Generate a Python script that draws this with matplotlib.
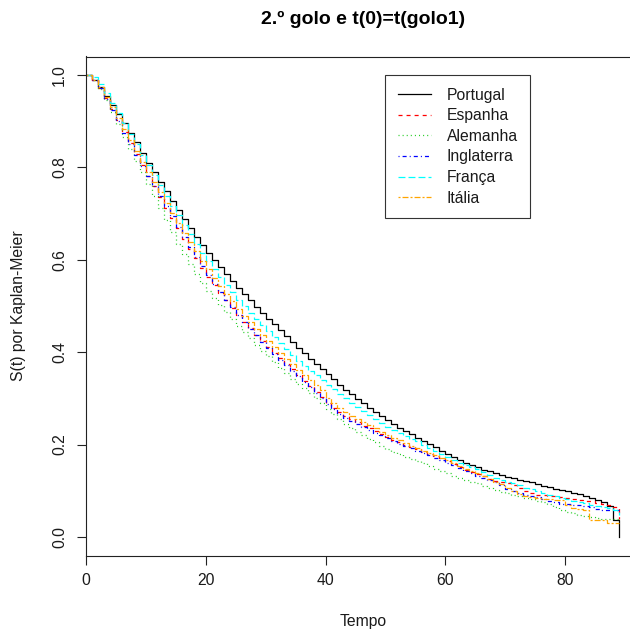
import matplotlib
matplotlib.use("Agg")
import matplotlib.pyplot as plt
import numpy as np

plt.rcParams['font.family'] = ['Liberation Sans', 'DejaVu Sans']
plt.rcParams['lines.scale_dashes'] = False

# Kaplan-Meier survival estimate per minute (value holds from minute t to t+1)
minutes = list(range(0, 90))

portugal = [1.000, 0.990, 0.975, 0.955, 0.935, 0.915, 0.895, 0.875, 0.855, 0.832,
            0.810, 0.789, 0.768, 0.748, 0.728, 0.708, 0.688, 0.668, 0.649, 0.631,
            0.615, 0.600, 0.585, 0.570, 0.555, 0.540, 0.526, 0.512, 0.498, 0.485,
            0.472, 0.460, 0.447, 0.434, 0.422, 0.410, 0.398, 0.386, 0.374, 0.363,
            0.352, 0.341, 0.330, 0.319, 0.309, 0.299, 0.289, 0.280, 0.271, 0.262,
            0.253, 0.245, 0.237, 0.229, 0.222, 0.215, 0.208, 0.201, 0.194, 0.187,
            0.180, 0.173, 0.167, 0.161, 0.156, 0.151, 0.146, 0.142, 0.138, 0.134,
            0.130, 0.127, 0.124, 0.121, 0.118, 0.114, 0.111, 0.108, 0.105, 0.102,
            0.099, 0.096, 0.093, 0.089, 0.085, 0.080, 0.075, 0.067, 0.037, 0.000]

espanha = [1.000, 0.990, 0.972, 0.950, 0.926, 0.902, 0.877, 0.852, 0.828, 0.805,
           0.782, 0.759, 0.736, 0.713, 0.690, 0.668, 0.646, 0.624, 0.603, 0.583,
           0.563, 0.545, 0.528, 0.512, 0.496, 0.481, 0.466, 0.452, 0.438, 0.425,
           0.412, 0.399, 0.387, 0.375, 0.363, 0.350, 0.338, 0.326, 0.314, 0.302,
           0.291, 0.280, 0.270, 0.261, 0.255, 0.248, 0.241, 0.235, 0.229, 0.223,
           0.217, 0.211, 0.205, 0.200, 0.195, 0.190, 0.185, 0.180, 0.175, 0.170,
           0.164, 0.158, 0.152, 0.146, 0.141, 0.136, 0.131, 0.126, 0.122, 0.119,
           0.116, 0.113, 0.106, 0.100, 0.095, 0.092, 0.090, 0.089, 0.088, 0.087,
           0.085, 0.083, 0.081, 0.079, 0.077, 0.074, 0.071, 0.069, 0.066, 0.040]

alemanha = [1.000, 0.990, 0.970, 0.945, 0.920, 0.893, 0.866, 0.840, 0.814, 0.789,
            0.765, 0.738, 0.712, 0.686, 0.660, 0.635, 0.612, 0.590, 0.569, 0.549,
            0.533, 0.517, 0.502, 0.487, 0.472, 0.457, 0.443, 0.430, 0.416, 0.403,
            0.391, 0.379, 0.366, 0.355, 0.343, 0.332, 0.322, 0.311, 0.300, 0.289,
            0.278, 0.266, 0.255, 0.245, 0.236, 0.228, 0.220, 0.212, 0.205, 0.198,
            0.191, 0.185, 0.179, 0.174, 0.169, 0.164, 0.160, 0.154, 0.148, 0.143,
            0.138, 0.133, 0.128, 0.124, 0.120, 0.116, 0.111, 0.106, 0.102, 0.098,
            0.095, 0.091, 0.088, 0.085, 0.082, 0.078, 0.075, 0.072, 0.066, 0.058,
            0.055, 0.051, 0.048, 0.046, 0.043, 0.041, 0.040, 0.040, 0.040, 0.040]

inglaterra = [1.000, 0.990, 0.972, 0.948, 0.924, 0.900, 0.875, 0.851, 0.827, 0.804,
              0.782, 0.760, 0.738, 0.716, 0.694, 0.672, 0.650, 0.628, 0.607, 0.587,
              0.567, 0.548, 0.530, 0.513, 0.497, 0.481, 0.466, 0.451, 0.437, 0.423,
              0.410, 0.397, 0.384, 0.372, 0.360, 0.348, 0.336, 0.324, 0.312, 0.300,
              0.288, 0.277, 0.267, 0.258, 0.252, 0.245, 0.238, 0.232, 0.226, 0.220,
              0.214, 0.208, 0.202, 0.197, 0.192, 0.187, 0.182, 0.177, 0.172, 0.167,
              0.161, 0.155, 0.149, 0.143, 0.138, 0.133, 0.128, 0.123, 0.118, 0.112,
              0.104, 0.099, 0.095, 0.092, 0.089, 0.086, 0.082, 0.078, 0.075, 0.072,
              0.071, 0.070, 0.069, 0.068, 0.064, 0.060, 0.058, 0.058, 0.058, 0.058]

franca = [1.000, 0.995, 0.980, 0.960, 0.940, 0.918, 0.895, 0.872, 0.850, 0.827,
          0.805, 0.783, 0.761, 0.739, 0.717, 0.696, 0.675, 0.655, 0.635, 0.615,
          0.597, 0.580, 0.562, 0.546, 0.530, 0.514, 0.499, 0.485, 0.472, 0.458,
          0.445, 0.432, 0.419, 0.406, 0.394, 0.382, 0.370, 0.360, 0.350, 0.340,
          0.330, 0.320, 0.310, 0.300, 0.290, 0.281, 0.272, 0.264, 0.256, 0.247,
          0.238, 0.231, 0.225, 0.219, 0.213, 0.207, 0.200, 0.193, 0.187, 0.180,
          0.173, 0.167, 0.161, 0.156, 0.152, 0.147, 0.141, 0.134, 0.128, 0.124,
          0.120, 0.116, 0.112, 0.107, 0.103, 0.099, 0.095, 0.091, 0.088, 0.085,
          0.082, 0.079, 0.076, 0.073, 0.070, 0.068, 0.065, 0.062, 0.058, 0.048]

italia = [1.000, 0.990, 0.974, 0.953, 0.930, 0.907, 0.883, 0.859, 0.835, 0.812,
          0.790, 0.768, 0.746, 0.724, 0.702, 0.680, 0.659, 0.638, 0.618, 0.598,
          0.579, 0.561, 0.543, 0.526, 0.510, 0.494, 0.479, 0.465, 0.451, 0.437,
          0.424, 0.411, 0.398, 0.386, 0.374, 0.362, 0.351, 0.340, 0.329, 0.318,
          0.300, 0.289, 0.279, 0.270, 0.262, 0.255, 0.248, 0.242, 0.235, 0.228,
          0.221, 0.215, 0.209, 0.203, 0.197, 0.192, 0.187, 0.182, 0.177, 0.172,
          0.167, 0.160, 0.154, 0.148, 0.143, 0.138, 0.132, 0.126, 0.120, 0.114,
          0.106, 0.100, 0.094, 0.088, 0.086, 0.084, 0.083, 0.082, 0.081, 0.080,
          0.070, 0.062, 0.060, 0.058, 0.037, 0.037, 0.037, 0.030, 0.030, 0.030]

paises = ["Portugal", "Espanha", "Alemanha", "Inglaterra", "França", "Itália"]
series = [portugal, espanha, alemanha, inglaterra, franca, italia]
cores = ["black", "#FF0000", "#22CC22", "#0000FF", "#00FFFF", "#FFA500"]
tracos = ["-",
          (0, (2.9, 2.9)),
          (0, (0.75, 2.2)),
          (0, (0.75, 2.2, 2.9, 2.2)),
          (0, (5.0, 2.2)),
          (0, (1.45, 1.45, 4.3, 1.45))]

W, H = 630, 635
fig = plt.figure(figsize=(W / 100, H / 100), dpi=100)

# plot region in pixels: x 0 -> 86 px, 5.9875 px per minute; y 1.04 -> 56.5, -0.04 -> 555.5
x_min, x_max = 0.0, 92.56
px_per_min = 5.9875
left_px = 86
right_px = left_px + (x_max - x_min) * px_per_min
top_px, bottom_px = 56.5, 555.5
ax = fig.add_axes([left_px / W, 1 - bottom_px / H,
                   (right_px - left_px) / W, (bottom_px - top_px) / H])
ax.set_xlim(x_min, x_max)
ax.set_ylim(-0.04, 1.04)

for nome, s, c, ls in zip(paises, series, cores, tracos):
    ax.step(minutes, s, where="post", color=c, linestyle=ls, linewidth=0.9,
            label=nome)

fs = 11.3
for sp in ax.spines.values():
    sp.set_color("#222222")
    sp.set_linewidth(0.8)

ax.set_xticks([0, 20, 40, 60, 80])
ax.set_yticks([0.0, 0.2, 0.4, 0.6, 0.8, 1.0])
ax.set_yticklabels(["0.0", "0.2", "0.4", "0.6", "0.8", "1.0"],
                   rotation=90, va="center")
ax.tick_params(axis="both", direction="out", length=6.5, width=0.8,
               color="#222222", labelsize=fs, labelcolor="#1a1a1a")
ax.tick_params(axis="x", pad=6)
ax.tick_params(axis="y", pad=7)

ax.set_xlabel("Tempo", fontsize=fs, color="#1a1a1a", labelpad=19)
ax.set_ylabel("S(t) por Kaplan-Meier", fontsize=fs, color="#1a1a1a", labelpad=19)
fig.text((86 + 640) / 2 / W, 1 - 19 / H, "2.º golo e t(0)=t(golo1)",
         ha="center", va="center", fontsize=14.0, fontweight="bold")

leg = ax.legend(loc="upper left", bbox_to_anchor=(50, 1.0),
                bbox_transform=ax.transData, borderaxespad=0,
                fontsize=fs, frameon=True, fancybox=False, framealpha=1,
                edgecolor="#333333", handlelength=2.1, handletextpad=1.0,
                labelspacing=0.36, borderpad=0.8)
leg.get_frame().set_linewidth(0.8)
for t in leg.get_texts():
    t.set_color("#1a1a1a")

fig.savefig("out.png", dpi=100)
